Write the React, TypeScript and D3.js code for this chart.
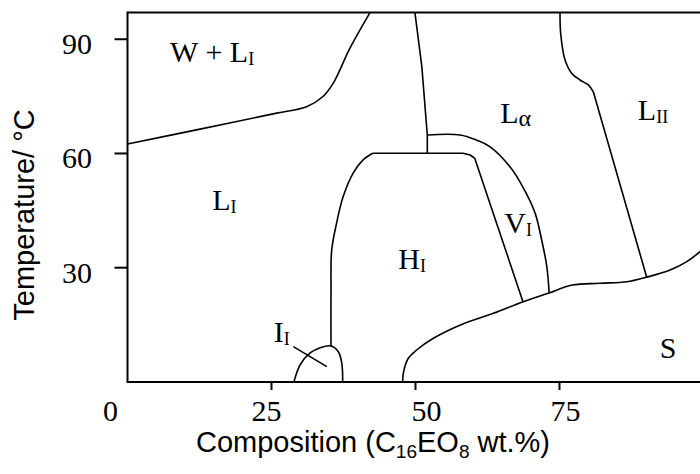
import React from "react";
import * as d3 from "d3";

// phase diagram C16EO8 / water (wt.% , °C)
const xTicks = [0, 25, 50, 75];
const xTickShift = [-17, -5, 11, 6]; // labels in the original are not quite centred
const yTicks = [30, 60, 90];

const wBoundary: [number, number][] = [
  [0, 62.5], [12.6, 66.4], [25.9, 70.6], [31.1, 72.3], [33.9, 74.9],
  [35.7, 78.4], [38.6, 87.6], [42.1, 97],
];
const laLine: [number, number][] = [
  [49.9, 97], [51.1, 82.8], [52.05, 64.8], [52.05, 60.05],
];
const hiLeft: [number, number][] = [
  [35.33, 9.43], [35.33, 24.1], [35.45, 34.6], [36.3, 41.7], [37.43, 48.6],
  [39.2, 54.9], [40.9, 58.3], [42.6, 60.05],
];
const hiTop: [number, number][] = [
  [42.6, 60.05], [58.25, 60.05], [59.5, 59.6], [60.3, 58.7], [68.67, 21.0],
];
const viOuter: [number, number][] = [
  [52.05, 64.85], [57.73, 64.85], [60.6, 63.5], [62.9, 61.8], [66.4, 56.5],
  [68.6, 51.3], [70.75, 44.4], [71.9, 37.3], [72.8, 30.3], [73.2, 23.4],
];
const sBoundary: [number, number][] = [
  [47.78, 0], [47.88, 2.26], [48.75, 6.2], [50.2, 8.38], [53.1, 11.45],
  [57.7, 14.9], [63.5, 18.0], [68.7, 21.07], [73.05, 23.27], [77.2, 25.45],
  [82.0, 25.9], [86.7, 26.3], [90.1, 27.5], [94.2, 29.4], [97.1, 31.6],
  [99.4, 34.2], [100.4, 35.6],
];
const l2Top: [number, number][] = [
  [75.09, 97], [75.2, 91.6], [75.95, 84.6], [77.1, 81.1], [78.56, 79.3],
  [80.0, 78.0], [80.87, 76.2],
];
const l2Line: [number, number][] = [[80.87, 76.2], [90.14, 27.5]];
const iiCap: [number, number][] = [
  [28.9, 0], [29.95, 4.44], [31.7, 7.6], [33.46, 9.0], [35.33, 9.43],
  [36.6, 7.93], [37.2, 4.96], [37.36, 0],
];
const iiLeader: [number, number][] = [[28.8, 9.25], [34.6, 4.0]];

const phaseLabels = [
  { main: "W + L", sub: "I", x: 7.4, y: 84.0 },
  { main: "L", sub: "I", x: 14.7, y: 45.2 },
  { main: "L", sub: "α", x: 64.7, y: 67.9 },
  { main: "L", sub: "II", x: 88.6, y: 68.8 },
  { main: "V", sub: "I", x: 65.4, y: 39.0 },
  { main: "H", sub: "I", x: 47.0, y: 29.6 },
  { main: "S", sub: "", x: 92.4, y: 6.3 },
  { main: "I", sub: "I", x: 25.4, y: 10.6 },
];

const width = 700, height = 474;
const margin = { left: 127.5, top: 12.6, bottom: 92.1 };
const serif = "'Liberation Serif', 'Times New Roman', serif";
const sans = "'Liberation Sans', Arial, sans-serif";

export default function App() {
  const x = d3.scaleLinear().domain([0, 100]).range([margin.left, margin.left + 576]);
  const y = d3.scaleLinear().domain([0, 97]).range([height - margin.bottom, margin.top]);

  const smooth = d3.line<[number, number]>()
    .x(d => x(d[0])).y(d => y(d[1]))
    .curve(d3.curveCatmullRom.alpha(0.5));
  const straight = d3.line<[number, number]>()
    .x(d => x(d[0])).y(d => y(d[1]));

  const curves = [wBoundary, hiLeft, viOuter, sBoundary, l2Top, iiCap];
  const lines = [laLine, hiTop, l2Line, iiLeader];

  const x0 = x(0), yb = y(0), yt = y(97);

  return (
    <svg width={width} height={height}
      style={{ position: "absolute", left: 0, top: 0, background: "#fff" }}>
      <rect width={width} height={height} fill="#fff" />

      {/* boundaries */}
      <g fill="none" stroke="#000" strokeWidth={1.6} strokeLinejoin="round">
        {curves.map((c, i) => <path key={"c" + i} d={smooth(c) || ""} />)}
        {lines.map((c, i) => <path key={"l" + i} d={straight(c) || ""} />)}
      </g>

      {/* frame */}
      <g stroke="#000" strokeWidth={2} fill="none">
        <line x1={x0} x2={width} y1={yt} y2={yt} />
        <line x1={x0} x2={width} y1={yb} y2={yb} />
        <line x1={x0} x2={x0} y1={yt - 1} y2={yb + 1} />
      </g>

      {/* x axis */}
      {xTicks.map((t, i) => (
        <g key={"xt" + t}>
          {t > 0 && <line x1={x(t)} x2={x(t)} y1={yb} y2={yb + 8} stroke="#000" strokeWidth={2} />}
          <text x={x(t) + xTickShift[i]} y={yb + 39} textAnchor="middle"
            fontFamily={serif} fontSize={30}>{t}</text>
        </g>
      ))}
      <text x={373} y={452} textAnchor="middle" fontFamily={sans} fontSize={29}>
        Composition (C<tspan fontSize={19} dy={6}>16</tspan>
        <tspan dy={-6}>EO</tspan><tspan fontSize={19} dy={6}>8</tspan>
        <tspan dy={-6}> wt.%)</tspan>
      </text>

      {/* y axis */}
      {yTicks.map(t => (
        <g key={"yt" + t}>
          <line x1={x0 - 13} x2={x0} y1={y(t)} y2={y(t)} stroke="#000" strokeWidth={2} />
          <text x={92} y={y(t) + 15} textAnchor="end" fontFamily={serif} fontSize={30}>{t}</text>
        </g>
      ))}
      <text transform={`translate(34,215) rotate(-90)`} textAnchor="middle"
        fontFamily={sans} fontSize={29}>Temperature/ °C</text>

      {/* phase labels */}
      {phaseLabels.map((p, i) => (
        <text key={"p" + i} x={x(p.x)} y={y(p.y)} fontFamily={serif} fontSize={30}>
          {p.main}
          {p.sub && (
            <tspan fontSize={p.sub === "α" ? 24 : 18} dy={3}>{p.sub}</tspan>
          )}
        </text>
      ))}
    </svg>
  );
}
